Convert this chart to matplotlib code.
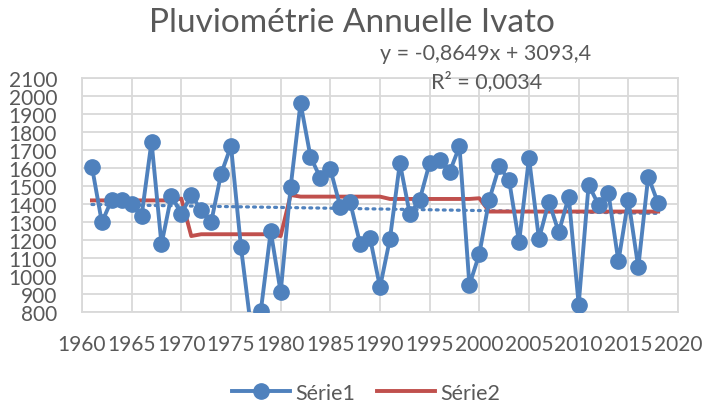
import numpy as np
import matplotlib
matplotlib.use('Agg')
import matplotlib.pyplot as plt

plt.rcParams['font.family'] = ['Lato', 'DejaVu Sans']

# Données
annees = list(range(1961, 2019))
serie1 = [1607, 1298, 1425, 1425, 1398, 1335, 1746, 1176, 1446, 1346,
          1448, 1369, 1298, 1567, 1722, 1162, 720, 805, 1248, 910,
          1493, 1961, 1663, 1544, 1594, 1385, 1409, 1178, 1211, 937,
          1206, 1628, 1344, 1424, 1628, 1646, 1576, 1720, 950, 1122,
          1424, 1609, 1531, 1187, 1656, 1206, 1413, 1243, 1441, 841,
          1506, 1396, 1459, 1081, 1424, 1048, 1552, 1404]
serie2 = [1420] * 9 + [1430] + [1222] + [1232] * 8 + [1222] + [1450] + [1441] * 9 \
         + [1428] * 9 + [1432] + [1358] * 18
pente = -0.8649
ordonnee = 3093.4
r2 = 0.0034

gris = '#595959'
bleu = '#4f81bd'
rouge = '#c0504d'

fig = plt.figure(figsize=(7.04, 4.06), dpi=100)
ax = fig.add_axes([82/704, 1 - 313/406, (678 - 82)/704, (313 - 79)/406])

x = np.array(annees)
tendance = pente * x + ordonnee
ax.plot(x, tendance, color=bleu, linestyle=(0, (0.6, 1.6)), linewidth=2.3,
        dash_capstyle='round', zorder=2)
ax.plot(annees, serie2, color=rouge, linewidth=2.8, label='Série2', zorder=3)
ax.plot(annees, serie1, color=bleu, linewidth=2.8, marker='o', markersize=11,
        label='Série1', zorder=4)

ax.set_xlim(1960, 2020)
ax.set_ylim(800, 2100)
ax.set_xticks(range(1960, 2021, 5))
ax.set_yticks(range(800, 2101, 100))
ax.grid(True, color='#d9d9d9', linewidth=1.3)
ax.set_axisbelow(True)
for s in ax.spines.values():
    s.set_color('#d9d9d9')
    s.set_linewidth(1.3)
ax.tick_params(length=0, labelsize=15, colors=gris)
ax.tick_params(axis='y', pad=18)
ax.tick_params(axis='x', pad=16)

fig.text(352/704, 1 - 23/406, 'Pluviométrie Annuelle Ivato', ha='center', va='center',
         fontsize=24, color=gris)
fig.text(486/704, 1 - 54/406, 'y = -0,8649x + 3093,4', ha='center', va='center',
         fontsize=15.5, color=gris)
fig.text(487/704, 1 - 82/406, 'R² = 0,0034', ha='center', va='center',
         fontsize=15.5, color=gris)

handles, labels = ax.get_legend_handles_labels()
fig.legend(handles[::-1], labels[::-1], loc='center', bbox_to_anchor=(366/704, 1 - 394/406),
           ncol=2, frameon=False, fontsize=15.5, labelcolor=gris, handlelength=2.7,
           columnspacing=1.0, handletextpad=0.25, borderpad=0.1)

fig.savefig('out.png', dpi=100)
